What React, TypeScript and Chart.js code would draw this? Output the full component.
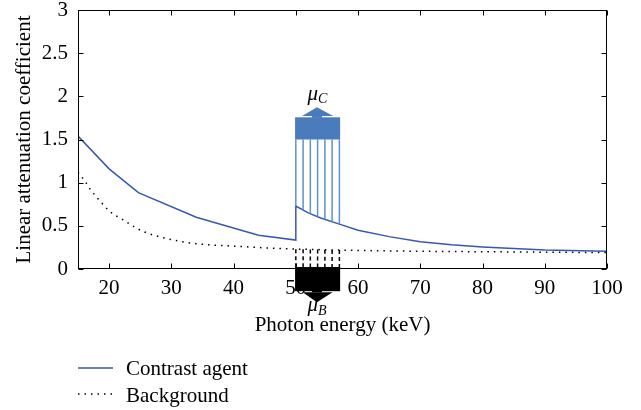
import React, { useEffect, useRef } from 'react';
import { Chart, registerables } from 'chart.js';

Chart.register(...registerables);

// ---- data ----
const contrastX = [15, 20, 24.7, 34, 44, 50, 50, 52, 54, 57, 60, 65, 70, 75, 80, 90, 100];
const contrastY = [1.54, 1.16, 0.885, 0.6, 0.39, 0.335, 0.73, 0.65, 0.59, 0.52, 0.45, 0.375, 0.315, 0.28, 0.255, 0.22, 0.205];

const backgroundX = [15, 16, 17, 18, 19, 20, 21, 22, 23, 24, 25, 26, 27, 28, 30, 33, 36, 40, 45, 50, 60, 70, 80, 90, 100];
const backgroundY = [1.12, 1.03, 0.92, 0.83, 0.75, 0.67, 0.62, 0.58, 0.535, 0.49, 0.45, 0.42, 0.395, 0.375, 0.34, 0.3, 0.28, 0.265, 0.245, 0.23, 0.215, 0.205, 0.2, 0.195, 0.19];

const xTicks = [20, 30, 40, 50, 60, 70, 80, 90, 100];
const yTicks = [0, 0.5, 1, 1.5, 2, 2.5, 3];
const yTickLabels = ['0', '0.5', '1', '1.5', '2', '2.5', '3'];

const seriesNames = ['Contrast agent', 'Background'];

// annotation positions (data units)
const markerX = [50, 51.17, 52.33, 53.5, 54.67, 55.83, 57];
const arrowCenterX = 53.4;
const muCBox = { bottom: 1.5, top: 1.757, headBase: 1.772, tip: 1.873, headL: 51.0, headR: 56.0 };
const muBBox = { top: 0, bottom: -0.257, headBase: -0.27, tip: -0.385, headL: 51.1, headR: 55.9 };

const FONT = '"Liberation Serif", "Times New Roman", serif';
const BLUE = '#3658b0';
const BOX_BLUE = '#4a7bbd';
const STEM_BLUE = '#5d90d6';

function curvePixelY(points: any[], px: number): number {
  let res = points[points.length - 1].y;
  for (let i = 0; i < points.length - 1; i++) {
    const a = points[i], b = points[i + 1];
    if (b.x - a.x < 0.01) continue;
    if (px >= a.x - 0.01 && px <= b.x + 0.01) {
      const t = Math.min(1, Math.max(0, (px - a.x) / (b.x - a.x)));
      res = a.y + (b.y - a.y) * t;
    }
  }
  return res;
}

const annotPlugin = {
  id: 'annot',
  afterDraw(chart: any) {
    const { ctx, chartArea: ca, scales } = chart;
    const x = scales.x, y = scales.y;
    ctx.save();
    // frame
    const L = Math.round(ca.left) + 0.5, R = Math.round(ca.right) - 0.5;
    const T = Math.round(ca.top) + 0.5, B = Math.round(ca.bottom) - 0.5;
    ctx.strokeStyle = '#000';
    ctx.lineWidth = 1;
    ctx.setLineDash([]);
    ctx.strokeRect(L, T, R - L, B - T);
    // inward ticks
    ctx.beginPath();
    for (const v of xTicks) {
      const px = Math.round(x.getPixelForValue(v)) + 0.5;
      ctx.moveTo(px, B); ctx.lineTo(px, B - 5);
      ctx.moveTo(px, T); ctx.lineTo(px, T + 5);
    }
    for (const v of yTicks) {
      const py = Math.round(y.getPixelForValue(v)) + 0.5;
      ctx.moveTo(L, py); ctx.lineTo(L + 5, py);
      ctx.moveTo(R, py); ctx.lineTo(R - 5, py);
    }
    ctx.stroke();

    const cPts = chart.getDatasetMeta(0).data;
    const bPts = chart.getDatasetMeta(1).data;
    const cx = x.getPixelForValue(arrowCenterX);
    const stemHalf = x.getPixelForValue(arrowCenterX + 0.8) - cx;

    // --- mu C (contrast) ---
    ctx.strokeStyle = STEM_BLUE;
    ctx.lineWidth = 1.5;
    const cBoxBottom = y.getPixelForValue(muCBox.bottom);
    ctx.beginPath();
    for (const v of markerX) {
      const px = x.getPixelForValue(v);
      ctx.moveTo(px, cBoxBottom);
      ctx.lineTo(px, curvePixelY(cPts, px));
    }
    ctx.stroke();
    ctx.fillStyle = BOX_BLUE;
    const x0 = x.getPixelForValue(markerX[0]);
    const x1 = x.getPixelForValue(markerX[markerX.length - 1]);
    const cTop = y.getPixelForValue(muCBox.top);
    ctx.fillRect(x0 - 0.75, cTop, x1 - x0 + 1.5, cBoxBottom - cTop);
    const cHead = y.getPixelForValue(muCBox.headBase);
    ctx.fillRect(cx - stemHalf, cHead, stemHalf * 2, cTop - cHead + 0.5);
    ctx.beginPath();
    ctx.moveTo(x.getPixelForValue(muCBox.headL), cHead);
    ctx.lineTo(x.getPixelForValue(muCBox.headR), cHead);
    ctx.lineTo(cx, y.getPixelForValue(muCBox.tip));
    ctx.closePath();
    ctx.fill();

    // --- mu B (background) ---
    ctx.strokeStyle = '#000';
    ctx.lineWidth = 1.5;
    ctx.setLineDash([4, 3]);
    const zeroPx = y.getPixelForValue(0);
    ctx.beginPath();
    for (const v of markerX) {
      const px = x.getPixelForValue(v);
      ctx.moveTo(px, curvePixelY(bPts, px));
      ctx.lineTo(px, zeroPx);
    }
    ctx.stroke();
    ctx.setLineDash([]);
    ctx.fillStyle = '#000';
    const bTop = y.getPixelForValue(muBBox.top) - 2;
    const bBottom = y.getPixelForValue(muBBox.bottom);
    ctx.fillRect(x0 - 0.75, bTop, x1 - x0 + 1.5, bBottom - bTop);
    const bHead = y.getPixelForValue(muBBox.headBase);
    ctx.fillRect(cx - stemHalf, bBottom - 0.5, stemHalf * 2, bHead - bBottom + 0.5);
    ctx.beginPath();
    ctx.moveTo(x.getPixelForValue(muBBox.headL), bHead);
    ctx.lineTo(x.getPixelForValue(muBBox.headR), bHead);
    ctx.lineTo(cx, y.getPixelForValue(muBBox.tip));
    ctx.closePath();
    ctx.fill();

    // labels mu_C and mu_B
    ctx.fillStyle = '#000';
    ctx.textBaseline = 'alphabetic';
    const tipC = y.getPixelForValue(muCBox.tip);
    ctx.font = `italic 21px ${FONT}`;
    ctx.textAlign = 'right';
    ctx.fillText('μ', cx + 1, tipC - 7);
    ctx.font = `italic 14px ${FONT}`;
    ctx.textAlign = 'left';
    ctx.fillText('C', cx + 1, tipC - 4);
    const tipB = y.getPixelForValue(muBBox.tip);
    ctx.font = `italic 21px ${FONT}`;
    ctx.textAlign = 'right';
    ctx.fillText('μ', cx + 1, tipB + 9);
    ctx.font = `italic 14px ${FONT}`;
    ctx.textAlign = 'left';
    ctx.fillText('B', cx + 1, tipB + 13);

    // legend
    const lx = ca.left;
    ctx.lineWidth = 1.5;
    ctx.strokeStyle = BLUE;
    ctx.beginPath();
    ctx.moveTo(lx, 368); ctx.lineTo(lx + 35, 368);
    ctx.stroke();
    ctx.strokeStyle = '#000';
    ctx.setLineDash([1.5, 5]);
    ctx.beginPath();
    ctx.moveTo(lx, 394); ctx.lineTo(lx + 35, 394);
    ctx.stroke();
    ctx.setLineDash([]);
    ctx.font = `21px ${FONT}`;
    ctx.fillStyle = '#000';
    ctx.textAlign = 'left';
    ctx.fillText(seriesNames[0], lx + 48, 375);
    ctx.fillText(seriesNames[1], lx + 48, 402);
    ctx.restore();
  },
};

export default function App() {
  const ref = useRef<HTMLCanvasElement>(null);
  useEffect(() => {
    if (!ref.current) return;
    const font = { family: FONT, size: 21 };
    const chart = new Chart(ref.current, {
      type: 'line',
      data: {
        datasets: [
          {
            label: seriesNames[0],
            data: contrastX.map((v, i) => ({ x: v, y: contrastY[i] })),
            borderColor: BLUE,
            borderWidth: 1.5,
            pointRadius: 0,
            fill: false,
            tension: 0,
          },
          {
            label: seriesNames[1],
            data: backgroundX.map((v, i) => ({ x: v, y: backgroundY[i] })),
            borderColor: '#000',
            borderWidth: 1.5,
            borderDash: [1.5, 5],
            pointRadius: 0,
            fill: false,
            tension: 0,
          },
        ],
      },
      options: {
        animation: false,
        responsive: false,
        layout: { padding: { left: 0, top: 10, right: 34, bottom: 72 } },
        plugins: { legend: { display: false }, tooltip: { enabled: false } },
        scales: {
          x: {
            type: 'linear',
            min: 15,
            max: 100,
            afterBuildTicks: (s: any) => { s.ticks = xTicks.map((v) => ({ value: v })); },
            ticks: { font, color: '#000', padding: 7, maxRotation: 0, autoSkip: false, callback: (v: any) => String(v) },
            grid: { display: false, drawTicks: false },
            border: { display: false },
            title: { display: true, text: 'Photon energy (keV)', font, color: '#000', padding: { top: 0, bottom: 0 } },
            afterFit: (s: any) => { s.height = 69; s.paddingLeft = 0; s.paddingRight = 0; },
          },
          y: {
            type: 'linear',
            min: 0,
            max: 3,
            afterBuildTicks: (s: any) => { s.ticks = yTicks.map((v) => ({ value: v })); },
            ticks: { font, color: '#000', padding: 10, autoSkip: false, callback: (v: any) => yTickLabels[yTicks.indexOf(Number(v))] },
            grid: { display: false, drawTicks: false },
            border: { display: false },
            title: { display: true, text: 'Linear attenuation coefficient', font, color: '#000', padding: { top: 12, bottom: 0 } },
            afterFit: (s: any) => { s.width = 78; s.paddingTop = 0; s.paddingBottom = 0; },
          },
        },
      },
      plugins: [annotPlugin],
    } as any);
    return () => chart.destroy();
  }, []);
  return (
    <div style={{ position: 'fixed', left: 0, top: 0, width: 641, height: 410, background: '#fff' }}>
      <canvas ref={ref} width={641} height={410} style={{ display: 'block' }} />
    </div>
  );
}
